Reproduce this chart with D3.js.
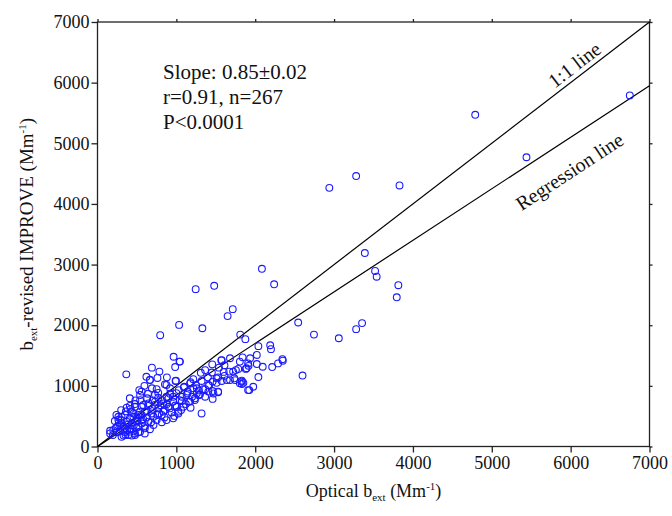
<!DOCTYPE html>
<html>
<head>
<meta charset="utf-8">
<script src="https://cdn.jsdelivr.net/npm/d3@7/dist/d3.min.js"></script>
<style>
  html, body { margin: 0; padding: 0; background: #fff; }
  svg { display: block; font-family: "Liberation Serif", "Times New Roman", serif; }
</style>
</head>
<body>
<svg id="chart" width="672" height="516"></svg>
<script>
// Optical b_ext vs revised-IMPROVE b_ext, both in Mm^-1: [optical, improve]
const observations = [
  [6750,5790],[4790,5470],[5440,4770],[2940,4265],[3280,4460],[3830,4305],[3390,3190],[3520,2895],
  [3540,2800],[3815,2660],[3795,2460],[3355,2035],[3280,1935],[3060,1785],[2745,1845],[2545,2045],
  [2600,1170],[2085,2930],[2240,2675],[1480,2650],[1245,2595],[1715,2265],[1650,2150],[1330,1950],
  [1035,2005],[795,1835],[1810,1845],[1875,1770],[2040,1655],[2190,1670],[2200,1605],[2345,1440],
  [1840,1470],[1935,1455],[2020,1510],[1805,1400],[1910,1370],[2020,1360],[2095,1315],[1880,1280],
  [2215,1310],[2290,1370],[2350,1415],[2040,1145],[1830,1070],[1805,1045],[1975,985],[1925,930],
  [1045,1400],[1570,1420],[1455,1355],[1365,1260],[1310,1215],[1215,1110],[1610,1340],[1915,1330],
  [1755,1260],[1670,1235],[1610,1165],[1680,1095],[1735,1125],[1830,1085],[1830,1030],[1530,1140],
  [1510,1050],[1095,975],[1215,960],[1285,925],[1365,945],[1415,1005],[1460,915],[1530,895],
  [1460,785],[1365,820],[1285,845],[1200,820],[1140,875],[1070,820],[1160,740],[1070,750],
  [1235,765],[1320,545],
  [965,1480],[1040,1400],[985,1310],[690,1300],[785,1235],[365,1190],[665,1100],[595,1000],
  [530,930],[410,795],[540,765],[630,795],[690,960],[750,945],[855,1025],[920,960],
  [990,1080],[1100,985],[1145,905],[770,805],[875,820],[645,670],[730,685],[835,710],
  [900,655],[985,675],[1045,765],[1090,655],[1025,575],[975,505],[835,575],[780,545],
  [710,490],[600,575],[520,520],[495,410],[410,465],[350,520],[370,640],[265,490],
  [220,420],[285,355],[200,270],[160,215],[245,235],[330,325],[370,270],[390,365],
  [495,310],[560,380],[600,300],[645,410],[815,400],[475,215],[520,235],[390,190],
  [330,180],[435,180],[455,490],[730,850],[580,685],[475,655],[435,575],[305,435],
  [160,260],[195,190],[240,520],[265,440],[305,490],[350,300],[305,160],[355,195],
  [410,245],[475,190],[540,245],[600,215],[520,325],[600,340],[665,285],[435,380],
  [370,410],[500,465],[560,435],[710,355],[750,435],[815,520],[875,435],[960,465],
  [1025,545],[1005,655],[920,630],[855,600],[770,630],[685,545],[625,575],[540,575],
  [455,545],[410,670],[475,700],[560,655],[645,710],[730,740],[815,765],[900,795],
  [960,820],[1130,850],[1175,740],[1235,795],[1300,860],[1405,905],[1470,875],[1530,905],
  [1175,1040],[1260,960],[1340,945],[995,1085],[875,1015],[770,885],[665,1095],[560,905],
  [1405,1015],[1460,1070],[1510,1125],[1575,1080],[1575,1425],[1680,1455],[1640,1095],[1745,1095],
  [1850,1050],[1785,1280],[1720,1235],[1890,1290],[1910,930],
  [250,330],[280,250],[300,390],[420,300],[460,350],[510,420],[560,520],[620,480],
  [680,400],[700,620],[760,520],[800,680],[850,480],[880,700],[940,560],[960,740],
  [1000,880],[1060,600],[1120,700],[1180,640],[420,620],[480,760],[360,580],[300,600],
  [640,870],[700,760],[540,850],[620,1150],[760,1130],[880,1140],[920,870],[1180,1060],
  [1250,1010],[1320,1080],[1400,1140],[1450,1220],[1540,1300],[1600,1230],[1260,880],[1030,930],
  [350,240],[230,300],[270,390],[460,250],[580,450]
];

const xTicks = [0, 1000, 2000, 3000, 4000, 5000, 6000, 7000];
const yTicks = [0, 1000, 2000, 3000, 4000, 5000, 6000, 7000];
const axisExtent = [0, 7000];

// Fitted regression through the origin, and the 1:1 reference
const regressionSlope = 0.85;
const identitySlope = 1;

const statsLines = ["Slope: 0.85\u00B10.02", "r=0.91, n=267", "P<0.0001"];

const svg = d3.select("#chart");
const plotLeft = 97.5, plotRight = 649.5, plotTop = 22, plotBottom = 446.5;

const x = d3.scaleLinear().domain(axisExtent).range([plotLeft, plotRight]);
const y = d3.scaleLinear().domain(axisExtent).range([plotBottom, plotTop]);

const axisColor = "#222";

// frame
svg.append("rect")
  .attr("x", plotLeft).attr("y", plotTop)
  .attr("width", plotRight - plotLeft).attr("height", plotBottom - plotTop)
  .attr("fill", "none").attr("stroke", axisColor).attr("stroke-width", 1.3);

function styleAxis(g) {
  g.selectAll(".domain").remove();
  g.selectAll(".tick line").attr("stroke", axisColor).attr("stroke-width", 1.3);
  g.selectAll(".tick text")
    .attr("fill", "#111")
    .style("font-family", '"Liberation Serif", "Times New Roman", serif')
    .style("font-size", "18px");
}

svg.append("g")
  .attr("transform", `translate(0,${plotBottom})`)
  .call(d3.axisBottom(x).tickValues(xTicks).tickFormat(d3.format("d")).tickSize(6).tickPadding(4))
  .call(styleAxis);

svg.append("g")
  .attr("transform", `translate(${plotLeft},0)`)
  .call(d3.axisLeft(y).tickValues(yTicks).tickFormat(d3.format("d")).tickSize(6).tickPadding(2))
  .call(styleAxis);

svg.append("g")
  .attr("transform", `translate(0,${plotTop})`)
  .call(d3.axisTop(x).tickValues(xTicks).tickFormat("").tickSize(3))
  .call(styleAxis);

svg.append("g")
  .attr("transform", `translate(${plotRight},0)`)
  .call(d3.axisRight(y).tickValues(yTicks).tickFormat("").tickSize(3))
  .call(styleAxis);

// reference lines
const lineGen = d3.line().x(d => x(d[0])).y(d => y(d[1]));
[identitySlope, regressionSlope].forEach(s => {
  svg.append("path")
    .datum([[0, 0], [axisExtent[1], s * axisExtent[1]]])
    .attr("d", lineGen)
    .attr("fill", "none")
    .attr("stroke", "#000")
    .attr("stroke-width", 1.2);
});

// scatter
svg.append("g")
  .selectAll("circle")
  .data(observations)
  .join("circle")
  .attr("cx", d => x(d[0]))
  .attr("cy", d => y(d[1]))
  .attr("r", 3.4)
  .attr("fill", "none")
  .attr("stroke", "#1a1aff")
  .attr("stroke-width", 1.1);

// line labels, rotated along their lines
function lineLabel(text, slope, atX, offset) {
  const px = x(atX), py = y(slope * atX);
  const ang = Math.atan2(y(slope * 1000) - y(0), x(1000) - x(0)) * 180 / Math.PI;
  svg.append("text")
    .attr("transform", `translate(${px},${py}) rotate(${ang})`)
    .attr("text-anchor", "middle")
    .attr("dy", offset)
    .attr("fill", "#111")
    .style("font-size", "20px")
    .text(text);
}
lineLabel("1:1 line", identitySlope, 6140, -5);
lineLabel("Regression line", regressionSlope, 5790, 35);

// statistics block
svg.append("g")
  .selectAll("text")
  .data(statsLines)
  .join("text")
  .attr("x", 163)
  .attr("y", (d, i) => 78.5 + i * 25.3)
  .attr("fill", "#111")
  .style("font-size", "21px")
  .text(d => d);

// axis titles
const xTitle = svg.append("text")
  .attr("x", (plotLeft + plotRight) / 2)
  .attr("y", 497)
  .attr("text-anchor", "middle")
  .attr("fill", "#111")
  .style("font-size", "18px");
xTitle.append("tspan").text("Optical b");
xTitle.append("tspan").attr("dy", 4).style("font-size", "11px").text("ext");
xTitle.append("tspan").attr("dy", -4).text(" (Mm");
xTitle.append("tspan").attr("dy", -7).style("font-size", "11px").text("-1");
xTitle.append("tspan").attr("dy", 7).text(")");

const yTitle = svg.append("text")
  .attr("transform", `translate(33,${(plotTop + plotBottom) / 2}) rotate(-90)`)
  .attr("text-anchor", "middle")
  .attr("fill", "#111")
  .style("font-size", "19px");
yTitle.append("tspan").text("b");
yTitle.append("tspan").attr("dy", 4).style("font-size", "11px").text("ext");
yTitle.append("tspan").attr("dy", -4).text("-revised IMPROVE (Mm");
yTitle.append("tspan").attr("dy", -7).style("font-size", "11px").text("-1");
yTitle.append("tspan").attr("dy", 7).text(")");
</script>
</body>
</html>
